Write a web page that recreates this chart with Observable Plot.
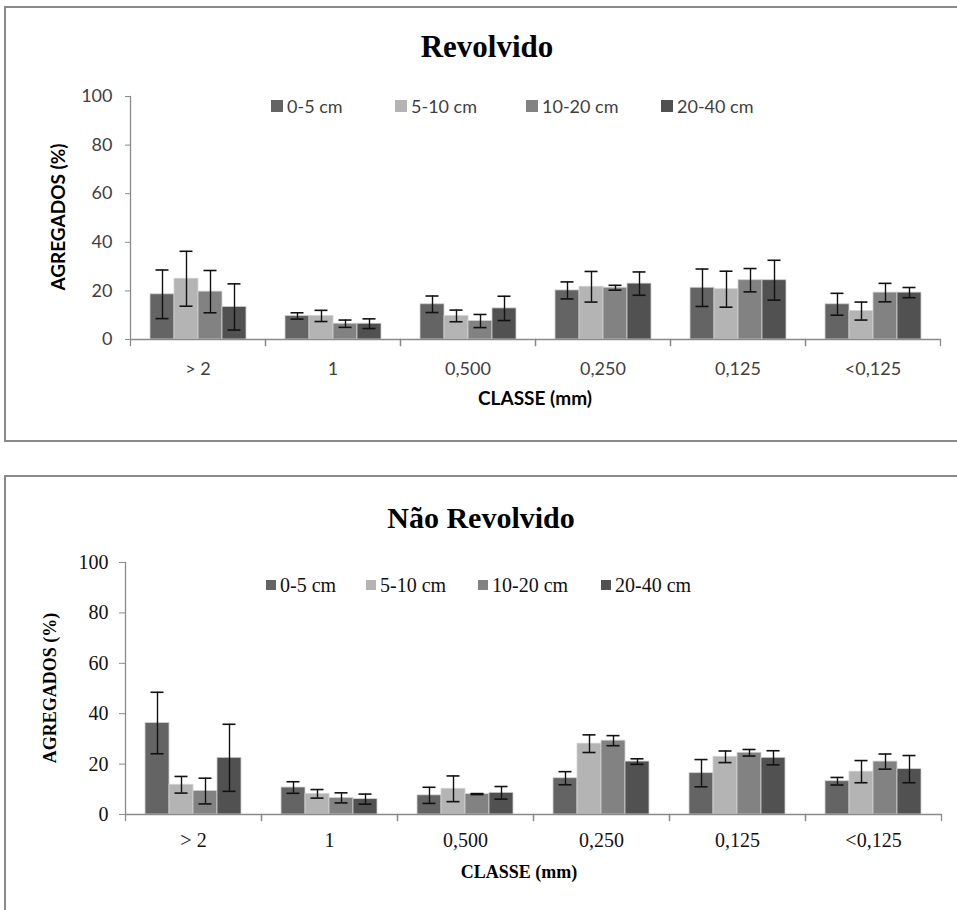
<!DOCTYPE html>
<html>
<head>
<meta charset="utf-8">
<script src="https://cdn.jsdelivr.net/npm/d3@7"></script>
<script src="https://cdn.jsdelivr.net/npm/@observablehq/plot@0.6"></script>
<style>
  html, body { margin: 0; padding: 0; background: #fff; }
  body { position: relative; width: 957px; height: 910px; overflow: hidden; }
  .box { position: absolute; border: 2px solid #8a8a8a; box-sizing: border-box; }
  .abs { position: absolute; white-space: nowrap; }
  .title { font-weight: bold; color: #000; transform: translateX(-50%); }
  .ylab { transform: translate(-50%, -50%) rotate(-90deg); font-weight: bold; color: #000; }
  .xlab { transform: translateX(-50%); font-weight: bold; color: #000; }
  .leg { display: flex; align-items: center; }
  .leg span.sq { display: inline-block; margin-right: 4px; }
  .chart { position: absolute; left: 0; }
  .chart svg { overflow: visible; }
</style>
</head>
<body>
<div class="box" style="left:4px;top:6px;width:970px;height:436px"></div>
<div class="box" style="left:4px;top:475px;width:970px;height:460px"></div>
<div id="c1" class="chart" style="top:0"></div>
<div id="c2" class="chart" style="top:470px"></div>
<div id="texts"></div>
<script>
// ---------- data ----------
const classes = ["> 2", "1", "0,500", "0,250", "0,125", "<0,125"];
const depths = ["0-5 cm", "5-10 cm", "10-20 cm", "20-40 cm"];
const yTicks = [0, 20, 40, 60, 80, 100];

// Revolvido: mean aggregates (%) per depth, one value per class
const rev_0_5   = [18.6, 9.7, 14.5, 20.2, 21.3, 14.5];
const rev_5_10  = [25.0, 9.7,  9.7, 21.7, 20.7, 11.7];
const rev_10_20 = [19.7, 6.5,  7.6, 21.3, 24.4, 19.3];
const rev_20_40 = [13.4, 6.5, 12.8, 23.0, 24.4, 19.3];
// Revolvido: error bar half-widths
const rev_0_5_err   = [10.0, 1.3, 3.4, 3.5, 7.7, 4.5];
const rev_5_10_err  = [11.3, 2.3, 2.4, 6.3, 7.4, 3.7];
const rev_10_20_err = [ 8.7, 1.5, 2.7, 1.0, 4.8, 3.8];
const rev_20_40_err = [ 9.5, 2.0, 5.0, 4.8, 8.2, 2.1];

// Não Revolvido: mean aggregates (%)
const nrev_0_5   = [36.3, 10.7,  7.6, 14.4, 16.4, 13.2];
const nrev_5_10  = [11.8,  8.2, 10.2, 28.1, 22.9, 17.0];
const nrev_10_20 = [ 9.3,  6.6,  8.1, 29.3, 24.5, 21.0];
const nrev_20_40 = [22.5,  6.1,  8.6, 21.0, 22.5, 18.0];
// Não Revolvido: error bar half-widths
const nrev_0_5_err   = [12.2, 2.3, 3.2, 2.6, 5.4, 1.5];
const nrev_5_10_err  = [ 3.3, 1.7, 5.1, 3.5, 2.3, 4.4];
const nrev_10_20_err = [ 5.1, 2.0, 0.2, 2.0, 1.3, 3.0];
const nrev_20_40_err = [13.3, 2.0, 2.5, 1.1, 2.8, 5.4];

const titles = ["Revolvido", "Não Revolvido"];
const yLabel = "AGREGADOS (%)";
const xLabels = ["CLASSE (mm)", "CLASSE  (mm)"];

// ---------- style ----------
const barColors = ["#646464", "#b4b4b4", "#828282", "#515151"];
const axisGray = "#8a8a8a";

function makeChart(cfg) {
  const rows = [];
  classes.forEach((c, i) => depths.forEach((d, j) => rows.push({
    classe: c, depth: d, value: cfg.means[j][i], err: cfg.errs[j][i]
  })));
  const plotH = cfg.height - cfg.marginTop - cfg.marginBottom;
  return Plot.plot({
    width: 957,
    height: cfg.height,
    marginTop: cfg.marginTop,
    marginBottom: cfg.marginBottom,
    marginLeft: cfg.marginLeft,
    marginRight: 16,
    style: {fontFamily: cfg.font, fontSize: cfg.tickFont, color: cfg.textColor, background: "transparent"},
    fx: {domain: classes, padding: 0},
    x: {domain: depths, paddingInner: 0, paddingOuter: 0.78, axis: null},
    y: {domain: [0, 100]},
    color: {domain: depths, range: barColors},
    marks: [
      Plot.frame({anchor: "left", insetTop: plotH, insetBottom: -6, stroke: axisGray, strokeWidth: 1.3}),
      Plot.frame({anchor: "right", insetTop: plotH, insetBottom: -6, stroke: axisGray, strokeWidth: 1.3}),
      Plot.frame({anchor: "left", stroke: axisGray, strokeWidth: 1.3, fx: [classes[0]]}),
      Plot.barY(rows, {fx: "classe", x: "depth", y: "value", fill: "depth", stroke: "#d2d2d2", strokeWidth: 0.8}),
      Plot.ruleY([0], {stroke: axisGray, strokeWidth: 1.3}),
      Plot.ruleX(rows, {fx: "classe", x: "depth", y1: d => d.value - d.err, y2: d => d.value + d.err, stroke: "#111", strokeWidth: 1.4}),
      Plot.tickY(rows, {fx: "classe", x: "depth", y: d => d.value + d.err, insetLeft: 5.5, insetRight: 5.5, stroke: "#111", strokeWidth: 1.6}),
      Plot.tickY(rows, {fx: "classe", x: "depth", y: d => d.value - d.err, insetLeft: 5.5, insetRight: 5.5, stroke: "#111", strokeWidth: 1.6}),
      Plot.axisY({ticks: yTicks, tickSize: cfg.yTickSize, tickPadding: cfg.yPad, stroke: axisGray, label: null}),
      Plot.axisFx({anchor: "bottom", tickSize: 0, tickPadding: cfg.xPad, label: null})
    ]
  });
}

document.getElementById("c1").appendChild(makeChart({
  means: [rev_0_5, rev_5_10, rev_10_20, rev_20_40],
  errs: [rev_0_5_err, rev_5_10_err, rev_10_20_err, rev_20_40_err],
  height: 430, marginTop: 96, marginBottom: 91, marginLeft: 128,
  font: "Lato, 'Open Sans', sans-serif", tickFont: "18px", textColor: "#3f3f3f",
  yPad: 13, yTickSize: 5, xPad: 23
}));

document.getElementById("c2").appendChild(makeChart({
  means: [nrev_0_5, nrev_5_10, nrev_10_20, nrev_20_40],
  errs: [nrev_0_5_err, nrev_5_10_err, nrev_10_20_err, nrev_20_40_err],
  height: 430, marginTop: 92, marginBottom: 86, marginLeft: 124,
  font: "'Liberation Serif', 'Times New Roman', serif", tickFont: "20px", textColor: "#111",
  yPad: 11, yTickSize: 6, xPad: 18
}));

// ---------- titles, legends, axis titles (HTML text) ----------
const T = document.getElementById("texts");
function add(html, cls, style) {
  const el = document.createElement("div");
  el.className = "abs " + cls;
  el.setAttribute("style", style);
  el.innerHTML = html;
  T.appendChild(el);
  return el;
}
const sans = "font-family:Lato,'Open Sans',sans-serif;";
const serif = "font-family:'Liberation Serif','Times New Roman',serif;";

// Chart 1
add(titles[0], "title", serif + "font-size:31px;line-height:31px;left:487px;top:31px;");
add(yLabel, "ylab", sans + "font-size:19px;line-height:19px;left:57px;top:217px;");
add(xLabels[0], "xlab", sans + "font-size:19px;line-height:19px;left:535px;top:388px;");
const leg1X = [271, 395, 526, 661];
depths.forEach((d, i) => {
  add(`<span class="sq" style="width:12px;height:12px;background:${barColors[i]}"></span><span>${d}</span>`,
      "leg", sans + `font-size:18px;line-height:18px;color:#3f3f3f;left:${leg1X[i]}px;top:97px;`);
});

// Chart 2
add(titles[1], "title", serif + "font-size:30px;line-height:30px;left:481px;top:503px;");
add(yLabel, "ylab", serif + "font-size:18px;line-height:18px;left:50px;top:688px;");
add(xLabels[1], "xlab", serif + "font-size:18px;line-height:18px;left:519px;top:863px;");
const leg2X = [266, 366, 478, 601];
depths.forEach((d, i) => {
  add(`<span class="sq" style="width:10px;height:10px;background:${barColors[i]}"></span><span>${d}</span>`,
      "leg", serif + `font-size:20px;line-height:20px;color:#111;left:${leg2X[i]}px;top:575px;`);
});
</script>
</body>
</html>
